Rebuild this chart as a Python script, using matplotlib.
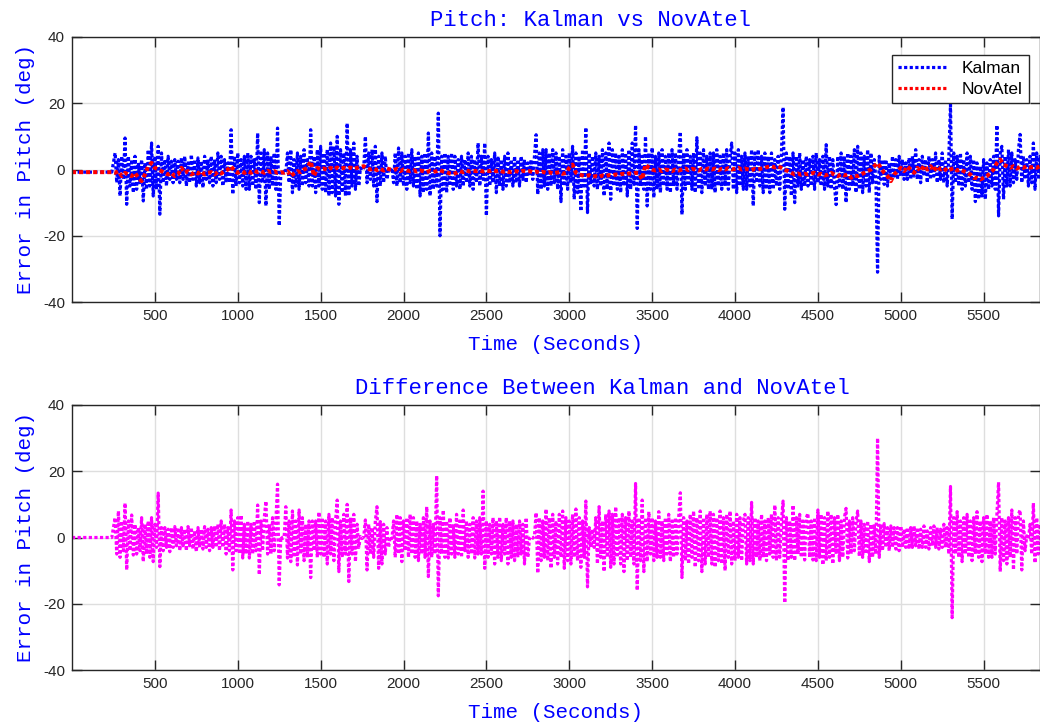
import numpy as np
import matplotlib.pyplot as plt

plt.rcParams['axes.unicode_minus'] = False

# sample times (s): flat lead-in, then one reading every 10 s
time_s = np.concatenate([[0, 240], np.arange(260, 5851, 10)])
# the NovAtel trace is smoother, read every 20 s
time_ref = np.concatenate([[0, 240], np.arange(260, 5841, 20)])

# pitch error from the Kalman filter (deg)
kalman = [-0.8, -0.8,
    5, -4, 3, -8, 4, -3, 9.5, -10.5, 4, -5, 3, -7, 4, -6, 2, -4, 3, -9.5, 2, -6,
    6, -5, 8, -8, 4, -6, 7, -13.5, 5, -4, 3, -5, 4, -3, 2.5, -4, 3, -3, 2.5, -4,
    3.5, -3, 4, -5, 2, -4, 4.5, -3, 3, -5, 3.5, -4, 2.5, -5.5, 4, -3, 3, -4, 4, -5,
    3, -4, 5, -3, 4, -5, 3, -4, 2, -4, 12, -7.5, 4, -5, 5, -4, 3, -5, 4, -6,
    5, -6, 4, -5, 3, -6, 11, -10, 5, -4, 6, -11, 5, -6, 4, -5, 5, -6, 12.5, -17,
    -0.5, -1, -0.5, -1, 5, -4, 6, -7, 3, -5, 5, -6, 4, -5, 6, -4, 3, -5, 12, -5,
    4, -7, 6, -5, 7, -6, 5, -7, 6, -8, 8, -7, 7, -8, 10, -10.5, 6, -7, 5, -8,
    14, -8, 6, -5, 8, -6, 4, -5, 0.5, -0.3, 0.5, 10, -4, 5, -3, 6, -5, 7, -9.7, 4,
    -5, 5, -4, 4, -3, 0, -0.5, 0.5, -4, 5, -5, 6.5, -4, 5, -5, 4, -6, 5, -4, 6,
    -5, 4, -6, 5, -8, 4, -7, 5, -6, 11, -8, 5, -6, 4, -5, 17, -20, 4, -6, 5,
    -7, 4, -5, 5, -6, 4, -5, 3, -6, 4, -5, 3, -4, 5, -5, 4, -6, 3, -4, 8,
    -5, 4, -3, 8, -14, 4, -5, 3, -4, 5, -7, 4, -5, 3, -6, 4, -5, 5, -4, 3,
    -5, 4, -4, 3, -5, 4, -3, 3, -4, 2, -2, 3, -3, 4, 10.5, -7.5, 5, -6, 6, -5,
    6, -6, 5, -5, 6, -4, 5, -6, 4, -9.7, 6, -5, 4, -6, 5, -4, 7, -9, 5, -7,
    4, -12.6, 6, -5, 12.7, -13, 5, -4, 4, -5, 5, -6, 4, -5, 6, -8, 5, -6, 8, -9,
    6, -5, 5, -6, 4, -7, 6, -5, 5, -8, 6, -6, 8, -5, 13.4, -17.8, 6, -5, 4, -6,
    10, -11, 5, -6, 6.6, -8.5, 4, -6, 5, -7, 6, -5, 4, -6, 5, -7, 6, -5, 5, -6,
    4, 11.4, -13.6, 5, -6, 6, -5, 4, -6, 5, -7, 9.6, -6, 5, -7, 6, -5, 4, -6, 5,
    -6, 5, -7, 6, -5, 4, -6, 5, -5, 6, -6, 4, 8, -6, 5, -7, 6, -5, 4, -6,
    5, -6, 4, -5, 6, -11, 5, -4, 6, -5, 4, -7, 5, -6, 4, -7, 5, -6, 3, -5,
    4, -6, 5, 18.8, -12, 5, -6, 4, -8, 5, -10, 4, -5, 5, -6, 3, -5, 4, -5, 3,
    -5, 4, -6, 5, -4, 3, -5, 4, -6, 7.5, -5, 4, -6, 3, -5, -10.6, 4, -5, 5, -6,
    4, -10, 5, -6, 4, -5, 6, -7, 7, -6, 5, -7, 4, -5, 6, -7, 5, -4, 3, -3,
    -31, 4, -3, 3, -4.5, 3, -5, 2, -3, 4, -2, 3, -3, 4, -2, 3, -3, 2, -3, 3.5,
    -3, 4, -2, 6, -3, 3, -4, 4, -2, 3, -4, 4, -3, 3, -2, 5, -4, 3, -3, 5,
    -4, 3, -5, 4, 19.6, -15, 5, -4, 4, -5, 5, -6, 3, -5, 5, -4, 4, -6, 3, -9.7,
    2, -9, 1, -8, 3, -9, 2, -6, 3, -5, 4, -6, 13.4, -14, 5, 7, -9, 4, -5, 6,
    -5, 5, -4, 3, -3, 6, 10.6, -4, 4, -3, 3, -5, 4, -4, 8, -6, 5, -3, 4, -5]

# NovAtel reference pitch (deg)
novatel = [-0.8, -0.8,
    -1, -0.5, -2, -1, -1.5, -2, -1, -2.5, -3.5, -1.5,
    1, 2, 0.5, 0, -0.5, -1, -1.5, -1, -2, -1.5,
    0.5, -1, -0.5, -1.5, -0.8, -1.2, -0.5, -1.5, -1, -0.8,
    -1.5, -0.7, -1.2, -0.5, 0, 1, -0.5, -1, -0.6, -1,
    -0.5, -1, -0.3, -0.8, -0.5, -1, -0.4, -0.8, -0.5, -1,
    -0.8, -1, -0.5, -2, -1.2, -0.5, -0.8, 0, 0.5, 2.5,
    -2, 0.5, 0, 0.3, -0.2, 0.5, 0, 0.6, 0.2, 0.5,
    0.3, 0.6, 0.2, 0.5, 0.8, 1, 0.3, 0, 0.4, -0.2,
    0.2, -0.3, 0.3, 0, -0.2, 0.2, -0.5, 0, -0.3, -0.5,
    -0.2, -0.6, -0.3, -0.5, -0.8, -0.4, -0.7, -0.5, -0.2, -0.6,
    -0.8, -1.2, -1.4, -1, -0.5, -0.8, -0.3, -0.6, -0.4, -0.5,
    -0.3, -0.6, -0.4, -0.5, -0.2, -0.5, -0.3, -0.7, -0.5, -0.8,
    -0.6, -0.5, -0.8, -0.4, -0.6, -0.5, -0.8, -0.6, -1, -0.7,
    -1, -0.8, -1.2, -1, -0.8, -1.3, -1, 0.5, 1.5, -1,
    -1.5, -1.8, -2, -1.7, -2.2, -2, -2.3, -1.8, -2, -1.7,
    -1.8, -1.5, -1.6, -1.3, -1.5, -1.2, -1.3, -1, -1.2, -3,
    1.5, 0.5, 0, -0.3, 0, -0.5, 0, -0.2, -0.5, 0,
    -0.3, 0, 0.3, -0.2, 0.2, 0, -0.3, 0.2, 0, 0.3,
    0, 0.3, -0.2, 0.2, 0, 0.4, 0, 0.2, 0.5, 0,
    0.3, 0, -0.2, 0.2, 0, 0.3, 0.5, 0.8, 1, 0.6,
    1, 0.5, 0, -0.5, -1, -1.5, -1.2, -1.6, -1.3, -1.5,
    -1.2, -1, -1.5, -1.3, -1.8, -1.5, -1, -1.6, -2, -1.4,
    -1.8, -1.5, -2.5, -1.8, -2, -1.5, -1, -0.5, 0, 1,
    2, 0.5, -1, -2, -3.5, -1.5, -0.5, 0.5, -0.5, 1,
    0, -1, 0.5, -0.5, 1.2, 0, 1, -0.5, 1, 0,
    0.5, -0.5, 0, 0.5, -0.3, 0, -0.5, -1, -1.5, -2.5,
    -2.5, -3, -2.5, -2, -1, 0, 2, 3, 1.5, 1,
    0.5, 1, 0.3, 0.8, 0.5, 1, 0.6, 0.8, 0.5, 1]

# difference between the two (deg)
difference = [0, 0,
    6, -5, 8, -6, 5, -4, 10.4, -9.8, 5, -4, 6.8, -5.3, 4, -5, 3, -4, 6, -7.3, 4, -5,
    5, -6, 6, -7.3, 4, -3, 13.4, -8.8, 3, -4, 3, -3, 2.5, -4.3, 3, -3, 3.3, -2.5, 3, -4,
    3, -3, 2.5, -4, 3.3, -2.5, 3, -3.5, 2, -4.3, 3, -3, 2.5, -3.5, 3.3, -3, 2.5, -4, 3, -3,
    3.5, -3, 4, -4, 5, -3, 4, -5, 3, -4, 8.3, -9.8, 5, -4, 6, -5, 6.8, -6.2, 4, -5,
    5, -6.2, 4, -5, 5, -4, 9.8, -11.3, 5, -4, 6, 11, -5, 4, -5, 6, -4, 5, 16.1, -14.3,
    0.3, -0.3, 0.2, 9.3, -6.2, 5, -7.3, 8, -6, 5, -8.3, 8.3, -5, 6, -7, 4, -6, 5, -12.1, 5,
    -4, 5, -6, 7.7, -5, 6, -6, 5, -8, 7, -5, 6, -7, 5, 11.3, -10.3, 5, -6, 7, -5,
    10, -13.3, 6, -5, 7, -7.3, 4, -3, 0.3, -0.3, 0.2, 5.3, -9.8, 4, -5, 3, -6, 5, 9.3, -9.3,
    4.8, -8, 4, -5, 3, -3, 0.3, -0.3, 5, -6, 7, -5, 6, -7.3, 5, -4, 6, -6, 7, -5,
    6, -6, 5, -7, 4, -5, 6, -6, 9.3, -11.8, 5, -6, 4, -5, 18.7, -17.6, 6, -5, 8.3, -6,
    5, -6.2, 6, -5, 4, -6, 7, -5, 5, -6, 8.3, -4, 5, -6, 4, -5, 6, -6.2, 5, -5,
    6, -5, 14, -9.3, 5, -6, 4, -5, 6, -8, 5, -6, 6.2, -7, 4, -5, 6, -8, 5, -6,
    5, -7, 4, -6, 5, -5, 4, -8, 6, -6, -0.3, 0.3, -0.2, 0.3, 7.5, -10.8, 6, -7, 5, -6,
    8.6, -7, 6, -9.3, 7, -6, 5, -8, 7, -6, 8, -9.3, 6, -7, 5, -8, 7, -6, 8.6, -7,
    6, -9, 5, -6, 11, -14.9, 3, -3, 2.5, -3, 6, -8, 9.3, -6, 5, -10.3, 7, -6, 8, -9,
    7, -8, 9.3, -6, 6, -8, 7, -10.3, 6, -7, 8, -6, 5, -8, 16.3, -16, 6, -7, 11.3, -10.3,
    6, -7.3, 7.8, -5, 6, -7, 5, -6, 7.8, -6, 5, -7, 6, -5, 7, -7.3, 5, -6, 6, -5,
    6, 13.5, -12.1, 6, -7, 5, -8, 7, -6, 8, -9, 6, -7, 8, -10.3, 6, -8, 7, -6, 8,
    -8, 7, -9, 6, -7, 8, -8, 6, -10, 7, -6, 8, -8, 5, -7, 7, -6, 6, -7, 5,
    7, -8, 6, -7, 10.6, -8, 6, -6, 5, -7, 7, -6, 5, -7, 6, -5, 7, -6, 9.8, -7,
    6, -6, 5, 11, -19.8, 6, -7, 5, -6, 9.8, -7, 6, -5, 7, -6, 5, -6.8, 6, 7.3, -6,
    5, -6.8, 6, -7, 8.3, -6, 7, -8.3, 6, -7, 8, -6, 7, -8, 6, -5, 7, -7, 5, -6,
    6, 8.8, -6.2, 5, -5, 6, -4, 5, 8, -5.7, 5, -6, 4, -5, 5, -7.3, 4, -6, 4, -5,
    30, -6, 4, -4, 4.2, -3, 3, -4, 3.5, -3, 3, -3.5, 3, -4, 3.5, -3, 2.5, -3, 3, -3.5,
    3, -3, 3.5, -2.5, 3, -3.5, 2.5, -3, 3.5, -3, 2, -3.5, 3, -2.5, 3.5, -3, 3, -3.5, 2.5, -3,
    4, -3, 3, -5, 15.4, -24.2, 6, -5, 7.8, -6, 5, -7.3, 6, -5, 7, -6, 5, -7, 6, -5,
    7.8, -6, 5, -7.3, 6, -5, 7, -6, 5, -6, 6, -5, 7, 16.7, -10.3, 6, -7, 5, -8, 6,
    -6, 8.3, -9.8, 6, -5, 7, 8.3, -9.8, 5, -4, 0.5, -0.5, 4, -5, 10.4, -7.7, 6, -5, 4, -6]

xticks = [500, 1000, 1500, 2000, 2500, 3000, 3500, 4000, 4500, 5000, 5500]
yticks = [-40, -20, 0, 20, 40]

MONO = 'Liberation Mono'
SANS = 'Liberation Sans'
AXC = '#262626'
DOTS = (0, (1, 0.75))

fig = plt.figure(figsize=(10.4, 7.22), dpi=100)
ax1 = fig.add_axes([72 / 1040, 1 - 302 / 722, 968 / 1040, 265 / 722])
ax2 = fig.add_axes([72 / 1040, 1 - 670 / 722, 968 / 1040, 265 / 722])

for ax in (ax1, ax2):
    ax.set_xlim(0, 5840)
    ax.set_ylim(-40, 40)
    ax.set_xticks(xticks)
    ax.set_yticks(yticks)
    ax.grid(True, color='#dedede', linewidth=1)
    ax.set_axisbelow(True)
    ax.tick_params(direction='in', length=7, width=1, color=AXC,
                   labelcolor=AXC, labelsize=11, top=True, right=True, pad=5)
    for lab in ax.get_xticklabels() + ax.get_yticklabels():
        lab.set_family(SANS)
    for sp in ax.spines.values():
        sp.set_color(AXC)
        sp.set_linewidth(1)
    ax.set_xlabel('Time (Seconds)', family=MONO, fontsize=15, color='blue', labelpad=9)
    ax.set_ylabel('Error in Pitch (deg)', family=MONO, fontsize=15, color='blue', labelpad=6)

ax1.plot(time_s, kalman, color='blue', linewidth=2.3, linestyle=DOTS,
         dash_capstyle='butt', label='Kalman')
ax1.plot(time_ref, novatel, color='red', linewidth=2.9, linestyle=DOTS,
         dash_capstyle='butt', label='NovAtel')
ax1.set_title('Pitch: Kalman vs NovAtel', family=MONO, fontsize=16,
              color='blue', x=0.536, pad=8)
leg = ax1.legend(loc='upper right', bbox_to_anchor=(0.9886, 0.932),
                 prop={'family': SANS, 'size': 12.5}, fancybox=False,
                 edgecolor=AXC, framealpha=1, handlelength=2.9,
                 borderpad=0.35, labelspacing=0.3, borderaxespad=0)
leg.get_frame().set_linewidth(1)
for h in leg.get_lines():
    h.set_linewidth(2.3)

ax2.plot(time_s, difference, color='magenta', linewidth=2.3, linestyle=DOTS,
         dash_capstyle='butt')
ax2.set_title('Difference Between Kalman and NovAtel', family=MONO, fontsize=16,
              color='blue', x=0.5475, pad=8)

fig.savefig('out.png', dpi=100)
